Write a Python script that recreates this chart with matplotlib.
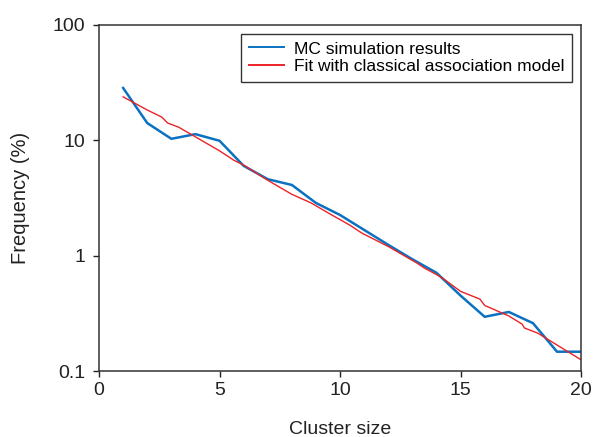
import matplotlib
matplotlib.use("Agg")
import matplotlib.pyplot as plt
from matplotlib.ticker import FixedLocator, FixedFormatter, NullLocator

plt.rcParams['font.family'] = ['Liberation Sans', 'DejaVu Sans']

# MC simulation results
mc_x = [1, 2, 3, 4, 5, 6, 7, 8, 9, 10, 11, 12, 13, 14, 15, 16, 17, 18, 19, 20]
mc_y = [28.4, 14.1, 10.3, 11.3, 9.9, 6.0, 4.6, 4.1, 2.86, 2.25, 1.67, 1.24,
        0.93, 0.71, 0.45, 0.295, 0.325, 0.26, 0.147, 0.147]

# Fit with classical association model
fit_x = [1, 2, 2.6, 2.85, 3.3, 4, 5, 5.6, 6, 7, 8, 8.8, 9.5, 10.4, 10.9, 12,
         13.2, 13.5, 14.2, 15, 15.8, 16, 17, 17.55, 17.65, 18.2, 19, 20]
fit_y = [23.8, 18.3, 15.9, 14.1, 13.0, 10.7, 8.1, 6.7, 6.1, 4.5, 3.4, 2.86,
         2.35, 1.84, 1.57, 1.2, 0.86, 0.78, 0.65, 0.49, 0.42, 0.37, 0.30,
         0.255, 0.236, 0.213, 0.168, 0.125]

x_ticks = [0, 5, 10, 15, 20]
y_ticks = [0.1, 1, 10, 100]
y_tick_labels = ['0.1', '1', '10', '100']

fig = plt.figure(figsize=(5.93, 4.37), dpi=100)
ax = fig.add_axes([0.167, 0.151, 0.813, 0.792])

ax.plot(mc_x, mc_y, color='#0a72c0', lw=1.8, label='MC simulation results')
ax.plot(fit_x, fit_y, color='#ec2227', lw=1.0, label='Fit with classical association model')

ax.set_yscale('log')
ax.set_xlim(0, 20)
ax.set_ylim(0.1, 100)
ax.xaxis.set_major_locator(FixedLocator(x_ticks))
ax.yaxis.set_major_locator(FixedLocator(y_ticks))
ax.yaxis.set_major_formatter(FixedFormatter(y_tick_labels))
ax.yaxis.set_minor_locator(NullLocator())
ax.tick_params(direction='out', length=4, width=1, labelsize=14, colors='#222222',
               top=False, right=False)
ax.tick_params(axis='y', pad=6)
ax.tick_params(axis='x', pad=4)
for s in ax.spines.values():
    s.set_linewidth(1.1)
    s.set_color('#333333')

ax.set_xlabel('Cluster size', fontsize=14, labelpad=16, color='#222222')
ax.set_ylabel('Frequency (%)', fontsize=14.5, labelpad=16, color='#222222')

leg = ax.legend(loc='upper right', fontsize=12.5, frameon=True, fancybox=False,
                edgecolor='black', borderpad=0.45, handlelength=2.0,
                labelspacing=0.12, borderaxespad=0.5, handletextpad=0.6)
leg.get_frame().set_linewidth(1.0)
for line in leg.get_lines():
    line.set_linewidth(1.4)

fig.savefig('out.png', dpi=100)
